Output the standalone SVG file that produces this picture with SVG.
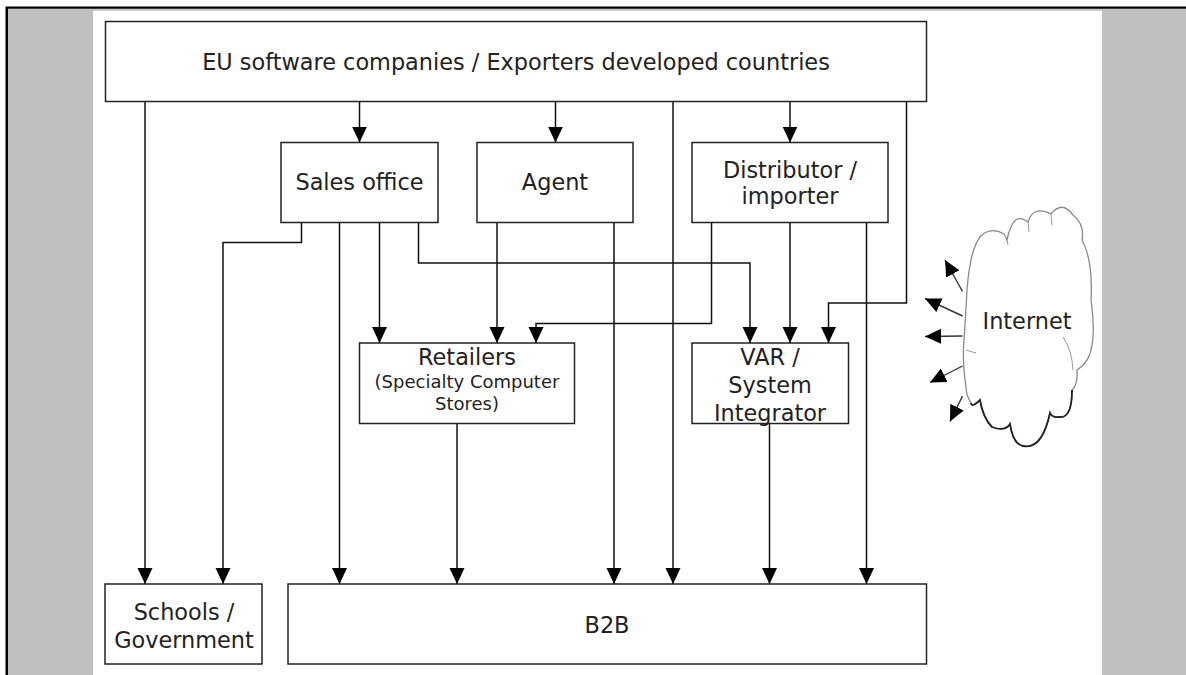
<svg xmlns="http://www.w3.org/2000/svg" width="1186" height="675" viewBox="0 0 1186 675">
<style>
.box{fill:#fff;stroke:#222;stroke-width:1.5}
.t{font-family:"DejaVu Sans",Verdana,sans-serif;font-size:22.4px;fill:#222;text-anchor:middle}
.s{font-size:18px}
.c{fill:none;stroke:#111;stroke-width:1.5;marker-end:url(#ah)}
.ca{fill:none;stroke:#333;stroke-width:1.4;marker-end:url(#ah)}
</style>
<defs>
<marker id="ah" markerWidth="16" markerHeight="16" viewBox="0 0 16 16" refX="16" refY="8" orient="auto" markerUnits="userSpaceOnUse">
<path d="M0,0.5 L16,8 L0,15.5 z" fill="#000"/>
</marker>
</defs>
<rect x="0" y="0" width="1186" height="675" fill="#fff"/>
<rect x="5.5" y="6.5" width="1180.5" height="668.5" fill="#000"/>
<rect x="8" y="8.7" width="1178" height="666.3" fill="#c0c0c0"/>
<rect x="93" y="10.7" width="1009" height="664.3" fill="#fff"/>

<g id="connectors">
<path class="c" d="M145,101.5 V584"/>
<path class="c" d="M359.5,101.5 V142.5"/>
<path class="c" d="M555.5,101.5 V142.5"/>
<path class="c" d="M673,101.5 V584"/>
<path class="c" d="M790,101.5 V142.5"/>
<path class="c" d="M906.5,101.5 V303 H828.5 V343"/>
<path class="c" d="M301.5,222.5 V242.5 H223 V584"/>
<path class="c" d="M339.5,222.5 V584"/>
<path class="c" d="M379.5,222.5 V343"/>
<path class="c" d="M418.5,222.5 V263 H750 V343"/>
<path class="c" d="M497,222.5 V343"/>
<path class="c" d="M614,222.5 V584"/>
<path class="c" d="M711.5,222.5 V323.5 H536 V343"/>
<path class="c" d="M790,222.5 V343"/>
<path class="c" d="M866.5,222.5 V584"/>
<path class="c" d="M457,423.5 V584"/>
<path class="c" d="M769.5,423.5 V584"/>
<path class="ca" d="M962.5,291.5 L945,260"/>
<path class="ca" d="M962.5,316 L925,298.5"/>
<path class="ca" d="M962.5,336 L925,336.5"/>
<path class="ca" d="M962.5,366 L930,382.5"/>
<path class="ca" d="M962.5,396 L950,421.5"/>
</g>

<g id="exporters">
<rect class="box" x="105.5" y="21.5" width="821" height="80"/>
<text class="t" x="516" y="70">EU software companies / Exporters developed countries</text>
</g>
<g id="sales-office">
<rect class="box" x="281" y="142.5" width="157" height="80"/>
<text class="t" x="359.5" y="190">Sales office</text>
</g>
<g id="agent">
<rect class="box" x="477" y="142.5" width="156" height="80"/>
<text class="t" x="555" y="190">Agent</text>
</g>
<g id="distributor">
<rect class="box" x="692" y="142.5" width="196" height="80"/>
<text class="t" x="790" y="178">Distributor /</text>
<text class="t" x="790" y="204">importer</text>
</g>
<g id="retailers">
<rect class="box" x="359.5" y="343" width="215" height="80.5"/>
<text class="t" x="467" y="365">Retailers</text>
<text class="t s" x="467" y="388">(Specialty Computer</text>
<text class="t s" x="467" y="410">Stores)</text>
</g>
<g id="var">
<rect class="box" x="692" y="343" width="156.5" height="80.5"/>
<text class="t" x="770" y="365">VAR /</text>
<text class="t" x="770" y="393">System</text>
<text class="t" x="770" y="421">Integrator</text>
</g>
<g id="schools">
<rect class="box" x="105" y="584" width="157" height="80"/>
<text class="t" x="184" y="620">Schools /</text>
<text class="t" x="184" y="648">Government</text>
</g>
<g id="b2b">
<rect class="box" x="288" y="584" width="638.5" height="80"/>
<text class="t" x="607" y="633">B2B</text>
</g>
<g id="internet">
<path d="M967,290 Q970,250 980,237 Q990,226 1004,234 Q1006,237 1007,240 Q1013,210 1028,222 Q1033,205 1051,214 Q1062,200 1073,215 Q1085,225 1082,240 Q1093,260 1091,300 Q1095,330 1092,345 Q1090,362 1077,370 Q1078,385 1072,390 Q1072,418 1060,417 Q1052,418 1050,413 Q1042,450 1023,446 Q1013,444 1010,424 Q1005,432 992,427 Q983,418 980,400 Q972,408 971,403 Q966,395 966,387 Q962,360 964,340 Q966,310 967,290 Z" fill="#fff" stroke="#8a8a8a" stroke-width="1.3"/>
<path d="M1072,390 Q1072,418 1060,417 Q1052,418 1050,413 Q1042,450 1023,446 Q1013,444 1010,424 Q1005,432 992,427 Q983,418 980,400 Q972,408 971,403" fill="none" stroke="#222" stroke-width="1.8"/>
<path d="M1028,222 L1029,232 M1051,214 L1052,225 M1007,240 L1008,245 M1063,337 Q1072,350 1073,370 M966,350 L976,353" fill="none" stroke="#999" stroke-width="1"/>
<text class="t" x="1027" y="329">Internet</text>
</g>
</svg>
